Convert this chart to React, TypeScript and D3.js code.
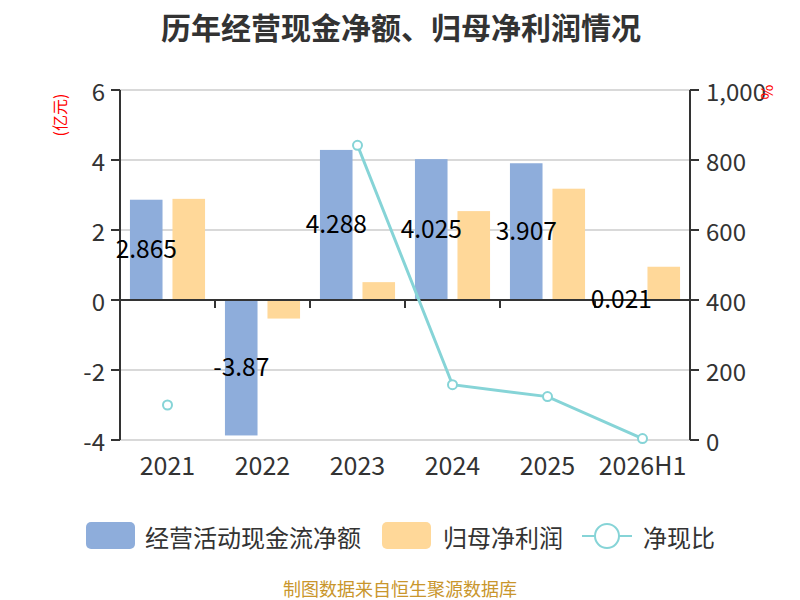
import React from "react";
import * as d3 from "d3";

const categories = ["2021", "2022", "2023", "2024", "2025", "2026H1"];
const cashFlow = [2.865, -3.87, 4.288, 4.025, 3.907, 0.021];
const netProfit = [2.89, -0.53, 0.51, 2.54, 3.18, 0.95];
const cashRatio: (number | null)[] = [100, null, 842, 158, 124, 4];
const leftTicks = [-4, -2, 0, 2, 4, 6];
const rightTicks = [0, 200, 400, 600, 800, 1000];
const seriesNames = ["经营活动现金流净额", "归母净利润", "净现比"];

const W = 800;
const H = 600;
const plotLeft = 120;
const plotRight = 690;
const plotTop = 90;
const plotBottom = 440;

const BLUE = "#8eaddb";
const ORANGE = "#ffd899";
const TEAL = "#86d4d7";
const AXIS = "#333333";
const GRID = "#cccccc";
const FONT = "'Noto Sans CJK SC', 'Noto Sans', sans-serif";

export default function App() {
  const x = d3.scaleBand<string>().domain(categories).range([plotLeft, plotRight]).padding(0);
  const inner = d3
    .scaleBand<string>()
    .domain(["cash", "profit"])
    .range([0, x.bandwidth()])
    .paddingInner(0.234)
    .paddingOuter(0.234);
  const yL = d3.scaleLinear().domain([-4, 6]).range([plotBottom, plotTop]);
  const yR = d3.scaleLinear().domain([0, 1000]).range([plotBottom, plotTop]);
  const fmtR = d3.format(",");

  const cx = (c: string) => (x(c) as number) + x.bandwidth() / 2;

  const line = d3
    .line<number | null>()
    .defined((d) => d !== null)
    .x((_, i) => cx(categories[i]))
    .y((d) => yR(d as number));

  const boundaries = categories.map((c) => x(c) as number).concat([plotRight]);

  return (
    <svg
      width={W}
      height={H}
      style={{ position: "absolute", left: 0, top: 0, background: "#fff" }}
      fontFamily={FONT}
    >
      {/* title */}
      <text x={401} y={26} textAnchor="middle" dominantBaseline="central" fontSize={30} fontWeight="bold" fill="#333">
        历年经营现金净额、归母净利润情况
      </text>

      {/* grid */}
      {leftTicks.map((t) => (
        <line key={"g" + t} x1={plotLeft} x2={plotRight} y1={yL(t)} y2={yL(t)} stroke={GRID} strokeWidth={1.5} />
      ))}

      {/* bars */}
      {categories.map((c, i) => {
        const bx = (x(c) as number) + (inner("cash") as number);
        const v = cashFlow[i];
        return (
          <rect
            key={"b" + c}
            x={bx}
            width={inner.bandwidth()}
            y={Math.min(yL(v), yL(0))}
            height={Math.abs(yL(v) - yL(0))}
            fill={BLUE}
          />
        );
      })}
      {categories.map((c, i) => {
        const bx = (x(c) as number) + (inner("profit") as number);
        const v = netProfit[i];
        return (
          <rect
            key={"o" + c}
            x={bx}
            width={inner.bandwidth()}
            y={Math.min(yL(v), yL(0))}
            height={Math.abs(yL(v) - yL(0))}
            fill={ORANGE}
          />
        );
      })}

      {/* left axis */}
      <line x1={plotLeft} x2={plotLeft} y1={plotTop} y2={plotBottom} stroke={AXIS} strokeWidth={2} />
      {leftTicks.map((t) => (
        <g key={"l" + t}>
          <line x1={plotLeft - 9} x2={plotLeft} y1={yL(t)} y2={yL(t)} stroke={AXIS} strokeWidth={2} />
          <text x={plotLeft - 15} y={yL(t)} textAnchor="end" dominantBaseline="central" fontSize={24} fill="#333">
            {t}
          </text>
        </g>
      ))}
      <text
        transform={`translate(59,115) rotate(-90)`}
        textAnchor="middle"
        dominantBaseline="central"
        fontSize={16}
        fill="#ff0000"
      >
        (亿元)
      </text>

      {/* right axis */}
      <line x1={plotRight} x2={plotRight} y1={plotTop} y2={plotBottom} stroke={AXIS} strokeWidth={2} />
      {rightTicks.map((t) => (
        <g key={"r" + t}>
          <line x1={plotRight} x2={plotRight + 9} y1={yR(t)} y2={yR(t)} stroke={AXIS} strokeWidth={2} />
          <text x={plotRight + 16} y={yR(t)} textAnchor="start" dominantBaseline="central" fontSize={24} fill="#333">
            {fmtR(t)}
          </text>
        </g>
      ))}
      <text
        transform={`translate(768,92) rotate(90)`}
        textAnchor="middle"
        dominantBaseline="central"
        fontSize={16}
        fill="#ff0000"
      >
        %
      </text>

      {/* x axis at zero */}
      <line x1={plotLeft} x2={plotRight} y1={yL(0)} y2={yL(0)} stroke={AXIS} strokeWidth={2} />
      {boundaries.map((b, i) => (
        <line key={"xt" + i} x1={b} x2={b} y1={yL(0)} y2={yL(0) + 8} stroke={AXIS} strokeWidth={2} />
      ))}
      {categories.map((c) => (
        <text key={"xl" + c} x={cx(c)} y={464} textAnchor="middle" dominantBaseline="central" fontSize={25} fill="#333">
          {c}
        </text>
      ))}

      {/* bar labels */}
      {categories.map((c, i) => {
        const v = cashFlow[i];
        const bx = (x(c) as number) + (inner("cash") as number) + inner.bandwidth() / 2;
        const my = (yL(v) + yL(0)) / 2;
        return (
          <text key={"bl" + c} x={bx} y={my - 2} textAnchor="middle" dominantBaseline="central" fontSize={24.5} fill="#000">
            {String(v)}
          </text>
        );
      })}

      {/* line series */}
      <path d={line(cashRatio) || ""} fill="none" stroke={TEAL} strokeWidth={3} />
      {cashRatio.map((v, i) =>
        v === null ? null : (
          <circle key={"p" + i} cx={cx(categories[i])} cy={yR(v)} r={4.5} fill="#fff" stroke={TEAL} strokeWidth={2} />
        )
      )}

      {/* legend */}
      <rect x={86} y={522} width={49} height={27} rx={5} fill={BLUE} />
      <text x={145} y={536} dominantBaseline="central" fontSize={24} fill="#333">
        {seriesNames[0]}
      </text>
      <rect x={382} y={522} width={49} height={27} rx={5} fill={ORANGE} />
      <text x={443} y={536} dominantBaseline="central" fontSize={24} fill="#333">
        {seriesNames[1]}
      </text>
      <line x1={582} x2={632} y1={536} y2={536} stroke={TEAL} strokeWidth={2} />
      <circle cx={607} cy={536} r={12} fill="#fff" stroke={TEAL} strokeWidth={2} />
      <text x={643} y={536} dominantBaseline="central" fontSize={24} fill="#333">
        {seriesNames[2]}
      </text>

      {/* source */}
      <text x={400} y={588} textAnchor="middle" dominantBaseline="central" fontSize={18} fill="#c9962c">
        制图数据来自恒生聚源数据库
      </text>
    </svg>
  );
}
